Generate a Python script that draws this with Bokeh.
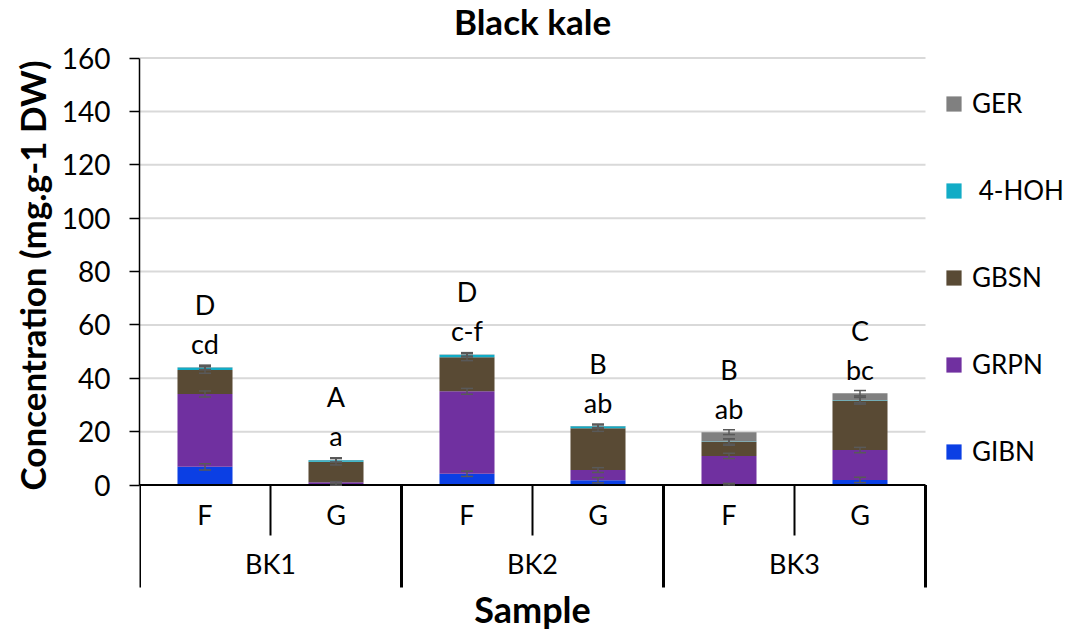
from bokeh.plotting import figure
from bokeh.models import (Range1d, FixedTicker, Legend, LegendItem, Whisker, TeeHead,
                          ColumnDataSource, Title)
from bokeh.core.properties import value
from bokeh.embed import file_html
from bokeh.resources import INLINE

# ---------------- data ----------------
samples = ["BK1", "BK2", "BK3"]
treatments = ["F", "G"]
layers = ["GIBN", "GRPN", "GBSN", "4-HOH", "GER"]
colors = ["#0B3FE4", "#7030A0", "#594A34", "#12ACC6", "#808080"]

GIBN = [6.8, 0.2, 4.2, 1.8, 0.3, 1.9]
GRPN = [27.3, 0.8, 30.9, 3.8, 10.6, 11.2]
GBSN = [9.0, 7.7, 12.8, 15.7, 5.2, 18.5]
HOH = [0.9, 0.6, 0.9, 0.7, 0.2, 0.2]
GER = [0.1, 0.1, 0.1, 0.1, 3.5, 2.6]

GIBN_err = [1.2, 0.3, 1.0, 1.0, 0.3, 1.0]
GRPN_err = [1.1, 0.3, 1.1, 0.9, 1.0, 1.0]
GBSN_err = [1.2, 1.2, 1.3, 1.2, 1.2, 1.3]
HOH_err = [0.8, 0.8, 0.8, 0.8, 1.0, 1.0]
GER_err = [0.8, 0.8, 0.6, 0.6, 0.9, 1.0]

upper_letters = ["D", "A", "D", "B", "B", "C"]
lower_letters = ["cd", "a", "c-f", "ab", "ab", "bc"]

y_ticks = [0, 20, 40, 60, 80, 100, 120, 140, 160]

# ---------------- layout constants ----------------
FONT = "Lato"
W, H = 1070, 634
LEFT = 139
ZERO_PX = 484.5               # screen y of value 0
PPU = (ZERO_PX - 57.5) / 160  # pixels per value unit
UNIT_PX = 131                 # pixels per category

n = len(samples) * len(treatments)
xs = [i + 0.5 for i in range(n)]
series = [GIBN, GRPN, GBSN, HOH, GER]
errs = [GIBN_err, GRPN_err, GBSN_err, HOH_err, GER_err]
keys = ["GIBN", "GRPN", "GBSN", "HOH", "GER"]

data = {"x": xs}
for k, s in zip(keys, series):
    data[k] = s
src = ColumnDataSource(data)

wb, wl, wu = [], [], []
cum = [0.0] * n
for s, e in zip(series, errs):
    cum = [c + v for c, v in zip(cum, s)]
    for i in range(n):
        wb.append(xs[i])
        wl.append(cum[i] - e[i])
        wu.append(cum[i] + e[i])
totals = cum

y_top = ZERO_PX / PPU
y_bot = -(H - ZERO_PX) / PPU
x_end = (W - LEFT) / UNIT_PX

p = figure(width=W, height=H, x_range=Range1d(0, x_end), y_range=Range1d(y_bot, y_top),
           x_axis_location=None, output_backend="svg", toolbar_location=None,
           min_border_left=LEFT, min_border_right=0, min_border_top=0, min_border_bottom=0)
p.outline_line_color = None
p.grid.visible = False

# y axis (bounded to the value range)
p.yaxis.ticker = FixedTicker(ticks=y_ticks)
p.yaxis.bounds = (y_ticks[0], y_ticks[-1])
p.yaxis.axis_line_color = "black"
p.yaxis.axis_line_width = 1.5
p.yaxis.major_tick_line_color = "black"
p.yaxis.major_tick_line_width = 1.5
p.yaxis.major_tick_out = 10
p.yaxis.major_tick_in = 0
p.yaxis.minor_tick_line_color = None
p.yaxis.major_label_standoff = 19
p.yaxis.major_label_text_font = FONT
p.yaxis.major_label_text_font_size = "28px"
p.yaxis.major_label_text_color = "black"

ylab = Title(text="Concentration (mg.g-1 DW)", align="left", offset=H - 490,
             vertical_align="bottom", standoff=12, text_font=FONT, text_font_size="35px",
             text_font_style="bold", text_color="black")
p.add_layout(ylab, "left")

# gridlines over the category span
p.segment(x0=[0] * (len(y_ticks) - 1), y0=y_ticks[1:], x1=[n] * (len(y_ticks) - 1), y1=y_ticks[1:],
          line_color="#d9d9d9", line_width=2)

rs = p.vbar_stack(keys, x="x", width=0.42, color=colors, line_color=None, source=src)

wsrc = ColumnDataSource(dict(base=wb, lower=wl, upper=wu))
p.add_layout(Whisker(base="base", lower="lower", upper="upper", source=wsrc, dimension="height",
                     line_color="#595959", line_width=1.5, level="annotation",
                     upper_head=TeeHead(size=12, line_color="#595959", line_width=1.5),
                     lower_head=TeeHead(size=12, line_color="#595959", line_width=1.5)))

# x axis line
p.segment(x0=[0], y0=[0], x1=[n], y1=[0], line_color="black", line_width=2)

# significance letters
p.text(x=xs, y=totals, text=lower_letters, y_offset=-24, text_align="center",
       text_baseline="alphabetic", text_font=value(FONT), text_font_size="27px", text_color="black")
p.text(x=xs, y=totals, text=upper_letters, y_offset=-63, text_align="center",
       text_baseline="alphabetic", text_font=value(FONT), text_font_size="27px", text_color="black")

# chart title
p.text(x=[n / 2], y=[y_ticks[-1]], text=["Black kale"], y_offset=-37, text_align="center",
       text_baseline="alphabetic", text_font=value(FONT), text_font_size="35px",
       text_font_style="bold", text_color="black")

# two-level category axis
inner_x = [i * len(treatments) + j for i in range(len(samples)) for j in range(1, len(treatments))]
outer_x = [i * len(treatments) for i in range(len(samples) + 1)]
p.segment(x0=inner_x, y0=[0] * len(inner_x), x1=inner_x, y1=[-(535 - ZERO_PX) / PPU] * len(inner_x),
          line_color="black", line_width=2)
p.segment(x0=outer_x, y0=[0] * len(outer_x), x1=outer_x, y1=[-(587 - ZERO_PX) / PPU] * len(outer_x),
          line_color="black", line_width=3)

inner_labels = [t for s in samples for t in treatments]
p.text(x=xs, y=[0] * n, text=inner_labels, y_offset=29, text_align="center",
       text_baseline="alphabetic", text_font=value(FONT), text_font_size="27px", text_color="black")
gx = [i * len(treatments) + len(treatments) / 2 for i in range(len(samples))]
p.text(x=gx, y=[0] * len(samples), text=samples, y_offset=78, text_align="center",
       text_baseline="alphabetic", text_font=value(FONT), text_font_size="27px", text_color="black")
p.text(x=[n / 2], y=[0], text=["Sample"], y_offset=124, text_align="center",
       text_baseline="alphabetic", text_font=value(FONT), text_font_size="36px",
       text_font_style="bold", text_color="black")

# legend
labels = list(layers)
labels[3] = " " + labels[3]
items = [LegendItem(label=value(lab), renderers=[r]) for lab, r in zip(labels, rs)][::-1]
legend = Legend(items=items, location=(805, 167), orientation="vertical",
                margin=0, padding=0, spacing=55, glyph_width=19, glyph_height=19,
                label_standoff=9, label_text_font=FONT, label_text_font_size="26px",
                label_text_color="black", border_line_color=None, background_fill_alpha=0)
p.add_layout(legend, "center")

open("out.html", "w").write(file_html(p, INLINE))
